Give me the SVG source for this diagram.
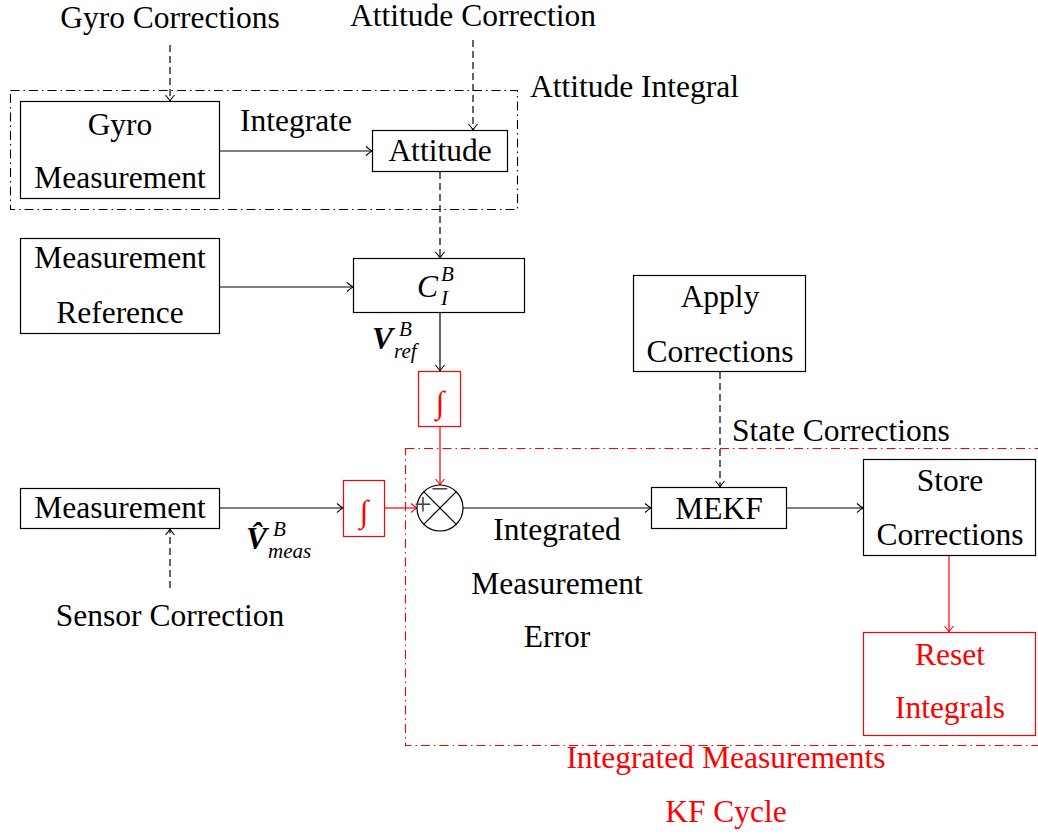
<svg xmlns="http://www.w3.org/2000/svg" width="1038" height="834" viewBox="0 0 1038 834">
<defs>
<marker id="ab" viewBox="-8 -6 10 12" markerWidth="10" markerHeight="12" refX="0" refY="0" orient="auto" markerUnits="userSpaceOnUse">
<path d="M-6,-4.5 Q-2,-1 0,0 Q-2,1 -6,4.5" fill="none" stroke="#000" stroke-width="1.1"/>
</marker>
<marker id="ar" viewBox="-8 -6 10 12" markerWidth="10" markerHeight="12" refX="0" refY="0" orient="auto" markerUnits="userSpaceOnUse">
<path d="M-6,-4.5 Q-2,-1 0,0 Q-2,1 -6,4.5" fill="none" stroke="#f00" stroke-width="1.1"/>
</marker>
</defs>
<style>
text{font-family:"Liberation Serif","Times New Roman",serif;font-size:31.5px;fill:#000}
.c{text-anchor:middle}
.red{fill:#f00}
.box{fill:#fff;stroke:#000;stroke-width:1.2}
.rbox{fill:#fff;stroke:#f00;stroke-width:1.2}
.ln{fill:none;stroke:#000;stroke-width:1.2}
.rln{fill:none;stroke:#f00;stroke-width:1.2}
.dash{stroke-dasharray:7 4}
.dd{fill:none;stroke:#000;stroke-width:1.1;stroke-dasharray:9 4 1.5 4}
.rdd{fill:none;stroke:#f00;stroke-width:1.1;stroke-dasharray:9 4 1.5 4}
.m{font-style:italic}
.b{font-weight:bold;font-style:italic}
.s{font-size:21px;font-style:italic}
</style>
<rect width="1038" height="834" fill="#fff"/>
<g id="frames">
<rect class="dd" x="10.5" y="90.5" width="507" height="119"/>
<text x="530" y="97">Attitude Integral</text>
<rect class="rdd" x="405.5" y="448.5" width="650" height="297"/>
<text class="c red" x="726" y="768">Integrated Measurements</text>
<text class="c red" x="726" y="822">KF Cycle</text>
</g>
<g id="connectors">
<path class="ln dash" d="M170,45 V101" marker-end="url(#ab)"/>
<path class="ln dash" d="M473,40 V130" marker-end="url(#ab)"/>
<path class="ln" d="M220,151 H372" marker-end="url(#ab)"/>
<path class="ln dash" d="M440,172 V258" marker-end="url(#ab)"/>
<path class="ln" d="M220,287 H353" marker-end="url(#ab)"/>
<path class="ln" d="M440,313 V371" marker-end="url(#ab)"/>
<path class="rln" d="M440,427 V485" marker-end="url(#ar)"/>
<path class="ln" d="M220,508 H343" marker-end="url(#ab)"/>
<path class="rln" d="M385,508 H417" marker-end="url(#ar)"/>
<path class="ln dash" d="M170,588 V529" marker-end="url(#ab)"/>
<path class="ln" d="M463,508 H651" marker-end="url(#ab)"/>
<path class="ln dash" d="M720,372 V487" marker-end="url(#ab)"/>
<path class="ln" d="M787,508 H863" marker-end="url(#ab)"/>
<path class="rln" d="M949,556 V632" marker-end="url(#ar)"/>
<text x="240" y="131">Integrate</text>
<text x="732" y="441">State Corrections</text>
<text class="c" x="557" y="540">Integrated</text>
<text class="c" x="557" y="594">Measurement</text>
<text class="c" x="557" y="647">Error</text>
<text x="372" y="349" class="b">V</text>
<text x="399" y="336" class="s">B</text>
<text x="394" y="358" class="s">ref</text>
<text x="246" y="549" class="b">V̂</text>
<text x="273" y="536" class="s">B</text>
<text x="268" y="558" class="s">meas</text>
</g>
<g id="gyro_corrections"><text class="c" x="170" y="28">Gyro Corrections</text></g>
<g id="attitude_correction"><text class="c" x="473" y="26">Attitude Correction</text></g>
<g id="gyro_measurement">
<rect class="box" x="20.5" y="101.5" width="199" height="97"/>
<text class="c" x="120" y="135">Gyro</text>
<text class="c" x="120" y="188">Measurement</text>
</g>
<g id="attitude">
<rect class="box" x="372.5" y="130.5" width="135" height="41"/>
<text class="c" x="440" y="161">Attitude</text>
</g>
<g id="measurement_reference">
<rect class="box" x="20.5" y="238.5" width="199" height="95"/>
<text class="c" x="120" y="268">Measurement</text>
<text class="c" x="120" y="323">Reference</text>
</g>
<g id="cib">
<rect class="box" x="353.5" y="258.5" width="171" height="54"/>
<text x="417" y="297" class="m" font-size="33">C</text>
<text x="441" y="281" class="s">B</text>
<text x="441" y="305" class="s" font-size="20">I</text>
</g>
<g id="int_ref">
<rect class="rbox" x="418.5" y="371.5" width="42" height="55"/>
<text class="c red m" x="440" y="413" font-size="40">∫</text>
</g>
<g id="sum">
<circle cx="440" cy="508" r="23" fill="#fff" stroke="#000" stroke-width="1.2"/>
<path class="ln" d="M423.7,491.7 L456.3,524.3 M456.3,491.7 L423.7,524.3"/>
<text class="c" x="423" y="515" font-size="20" style="fill:#444">+</text>
<text class="c" x="440" y="499" font-size="20" style="fill:#444">−</text>
</g>
<g id="measurement">
<rect class="box" x="20.5" y="488.5" width="199" height="40"/>
<text class="c" x="120" y="518">Measurement</text>
</g>
<g id="int_meas">
<rect class="rbox" x="343.5" y="480.5" width="41" height="56"/>
<text class="c red m" x="364" y="522" font-size="40">∫</text>
</g>
<g id="sensor_correction"><text class="c" x="170" y="626">Sensor Correction</text></g>
<g id="mekf">
<rect class="box" x="651.5" y="487.5" width="135" height="41"/>
<text class="c" x="719" y="519">MEKF</text>
</g>
<g id="apply_corrections">
<rect class="box" x="633.5" y="275.5" width="172" height="96"/>
<text class="c" x="720" y="307">Apply</text>
<text class="c" x="720" y="362">Corrections</text>
</g>
<g id="store_corrections">
<rect class="box" x="863.5" y="459.5" width="172" height="96"/>
<text class="c" x="950" y="491">Store</text>
<text class="c" x="950" y="545">Corrections</text>
</g>
<g id="reset_integrals">
<rect class="rbox" x="863.5" y="632.5" width="172" height="103"/>
<text class="c red" x="950" y="665">Reset</text>
<text class="c red" x="950" y="718">Integrals</text>
</g>
</svg>
